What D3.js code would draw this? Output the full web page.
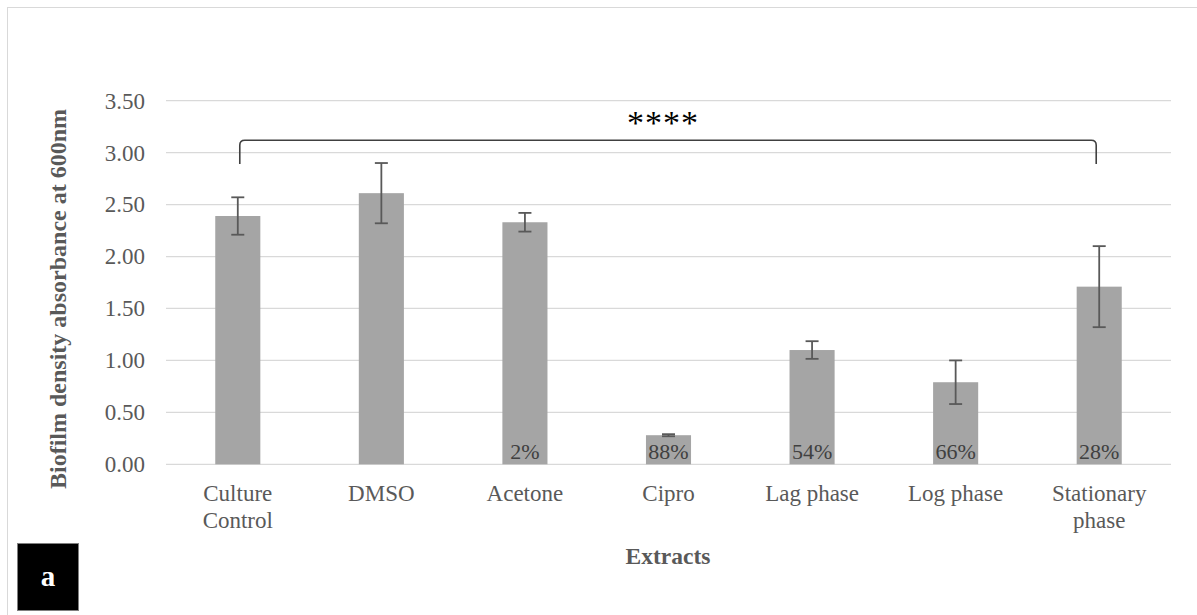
<!DOCTYPE html>
<html><head><meta charset="utf-8">
<script src="https://cdn.jsdelivr.net/npm/d3@7"></script>
<style>body{margin:0;background:#fff}svg{display:block}</style>
</head><body>
<svg id="c" width="1197" height="615"></svg>
<script>
const categories = [["Culture","Control"],["DMSO"],["Acetone"],["Cipro"],["Lag phase"],["Log phase"],["Stationary","phase"]];
const values = [2.39, 2.61, 2.33, 0.28, 1.10, 0.79, 1.71];
const errors = [0.18, 0.29, 0.09, 0.01, 0.085, 0.21, 0.39];
const pctLabels = ["", "", "2%", "88%", "54%", "66%", "28%"];
const yTicks = [0, 0.5, 1, 1.5, 2, 2.5, 3, 3.5];
const bracketLevel = 3.12, bracketDrop = 2.89;

const svg = d3.select("#c");
const F = "'Liberation Serif','Times New Roman',serif";
const m = {l:166, r:1171, t:100.7, b:464.3};
svg.append("rect").attr("x",7.5).attr("y",7.5).attr("width",1200).attr("height",700)
  .attr("fill","#fff").attr("stroke","#d9d9d9");

const x = d3.scaleBand().domain(d3.range(categories.length)).range([m.l,m.r]).paddingInner(0.686).paddingOuter(0.343);
const y = d3.scaleLinear().domain([0,3.5]).range([m.b,m.t]);

// gridlines
svg.append("g").selectAll("line").data(yTicks).join("line")
  .attr("x1",m.l).attr("x2",m.r).attr("y1",d=>y(d)).attr("y2",d=>y(d))
  .attr("stroke","#d9d9d9").attr("stroke-width",1.3);

// y axis labels
const ya = svg.append("g").attr("transform",`translate(${m.l-21},0)`)
  .call(d3.axisLeft(y).tickValues(yTicks).tickFormat(d3.format(".2f")).tickSize(0).tickPadding(0));
ya.select(".domain").remove();
ya.selectAll("text").attr("font-family",F).attr("font-size",23).attr("fill","#595959").attr("dy","0.32em");

// bars
svg.append("g").selectAll("rect").data(values).join("rect")
  .attr("x",(d,i)=>x(i)).attr("width",x.bandwidth())
  .attr("y",d=>y(d)).attr("height",d=>y(0)-y(d)).attr("fill","#a5a5a5");

// error bars
const eg = svg.append("g").attr("stroke","#595959").attr("stroke-width",1.8);
values.forEach((v,i)=>{
  const cx = x(i)+x.bandwidth()/2;
  const hi = y(v+errors[i]), lo = y(v-errors[i]);
  eg.append("line").attr("x1",cx).attr("x2",cx).attr("y1",hi).attr("y2",lo);
  eg.append("line").attr("x1",cx-6.5).attr("x2",cx+6.5).attr("y1",hi).attr("y2",hi);
  eg.append("line").attr("x1",cx-6.5).attr("x2",cx+6.5).attr("y1",lo).attr("y2",lo);
});

// percentage labels
svg.append("g").selectAll("text").data(pctLabels).join("text")
  .attr("x",(d,i)=>x(i)+x.bandwidth()/2).attr("y",y(0)-5.5)
  .attr("text-anchor","middle").attr("font-family",F).attr("font-size",22).attr("fill","#404040")
  .text(d=>d);

// category labels
const cg = svg.append("g");
categories.forEach((c,i)=>{
  const t = cg.append("text").attr("x",x(i)+x.bandwidth()/2).attr("y",501)
    .attr("text-anchor","middle").attr("font-family",F).attr("font-size",23).attr("fill","#595959");
  c.forEach((line,j)=>t.append("tspan").attr("x",x(i)+x.bandwidth()/2).attr("dy",j?27:0).text(line));
});

// axis titles
svg.append("text").attr("x",668).attr("y",564).attr("text-anchor","middle")
  .attr("font-family",F).attr("font-size",23.5).attr("font-weight","bold").attr("fill","#595959").text("Extracts");
svg.append("text").attr("transform",`translate(66,299) rotate(-90)`).attr("text-anchor","middle")
  .attr("font-family",F).attr("font-size",24).attr("font-weight","bold").attr("fill","#595959")
  .text("Biofilm density absorbance at 600nm");

// bracket
const bx1 = x(0)+x.bandwidth()/2+2, bx2 = x(6)+x.bandwidth()/2-3;
const by = y(bracketLevel), bd = y(bracketDrop), r = 5;
svg.append("path").attr("fill","none").attr("stroke","#404040").attr("stroke-width",1.6)
  .attr("d",`M${bx1},${bd} L${bx1},${by+r} Q${bx1},${by} ${bx1+r},${by} L${bx2-r},${by} Q${bx2},${by} ${bx2},${by+r} L${bx2},${bd}`);
svg.append("text").attr("x",(bx1+bx2)/2-5).attr("y",by-6).attr("text-anchor","middle")
  .attr("font-family",F).attr("font-size",34).attr("letter-spacing",1).attr("fill","#000").text("****");

// panel label
svg.append("rect").attr("x",17.5).attr("y",543.5).attr("width",61).attr("height",67).attr("fill","#000").attr("stroke","#7f7f7f");
svg.append("text").attr("x",48).attr("y",586).attr("text-anchor","middle").attr("font-family",F)
  .attr("font-size",29).attr("font-weight","bold").attr("fill","#fff").text("a");
</script>
</body></html>
